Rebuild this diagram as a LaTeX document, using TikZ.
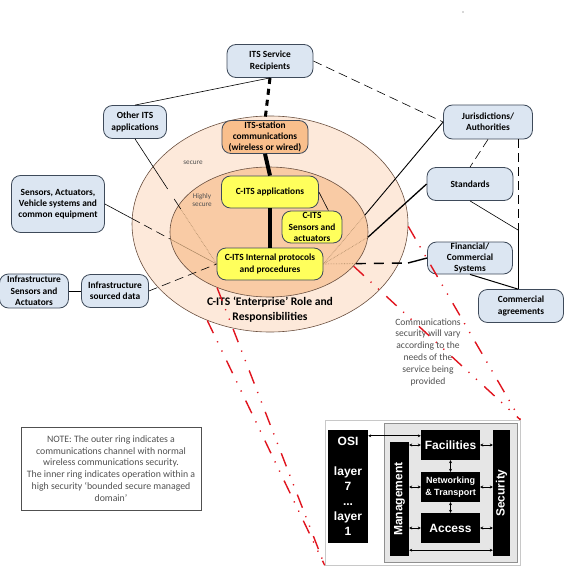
\documentclass[tikz,border=0pt]{standalone}
\usepackage{fontspec}
\usepackage{graphicx}
\setmainfont{Carlito}
\newfontfamily\arialfont{Liberation Sans}
\usetikzlibrary{shapes.geometric,arrows.meta,calc}
\definecolor{actorfill}{HTML}{DCE6F2}
\definecolor{actorline}{HTML}{3E4A5A}
\definecolor{citsyellow}{HTML}{FFFF5C}
\definecolor{stationfill}{HTML}{F9BF8C}
\definecolor{outerfill}{HTML}{FDE9DA}
\definecolor{innerfill}{HTML}{F9CBA5}
\definecolor{ringline}{HTML}{6B5040}
\definecolor{tanline}{HTML}{A88560}
\definecolor{zoomred}{HTML}{E0141E}
\definecolor{labelgray}{HTML}{505050}
\definecolor{panelfill}{HTML}{E6E6E6}
\definecolor{panelline}{HTML}{909090}
\definecolor{framegray}{HTML}{C8C8C8}
\begin{document}
\begin{tikzpicture}[x=1pt,y=-1pt,
  boxsize/.style 2 args={minimum width=#1pt,minimum height=#2pt},
  actor/.style={draw=actorline,fill=actorfill,line width=0.8pt,rounded corners=9pt,
    align=center,inner sep=0pt,font=\bfseries\fontsize{9.4}{11.3}\selectfont},
  cits/.style={actor,fill=citsyellow},
  ring/.style={ellipse,draw=ringline,line width=0.6pt,inner sep=0pt},
  link/.style={line width=0.6pt},
  dashlink/.style={link,dash pattern=on 9pt off 5pt},
  tanlink/.style={draw=tanline,line width=0.6pt,densely dotted},
  zoomline/.style={draw=zoomred,line width=1.4pt,
    dash pattern=on 14pt off 9pt on 1.2pt off 9pt on 1.2pt off 10pt},
  smalllabel/.style={text=labelgray,align=center,font=\fontsize{7.2}{8.6}\selectfont},
  layer/.style={fill=black,text=white,inner sep=0pt,align=center,
    font=\arialfont\bfseries\fontsize{12}{15}\selectfont},
  port/.style={{Stealth[length=3pt,width=3pt]}-{Stealth[length=3pt,width=3pt]},line width=0.5pt}]
\useasboundingbox (0,0) rectangle (565,567);
\fill[labelgray] (463,12) circle (0.7pt);

\node[ring,fill=outerfill,boxsize={276}{216}] (outer) at (270,224) {};
\node[ring,fill=innerfill,boxsize={198}{130}] (inner) at (269,232) {};
\node[smalllabel] (securelbl) at (193,163) {secure};
\node[smalllabel] (highlylbl) at (202,200) {Highly\\secure};
\node[align=center,font=\bfseries\fontsize{11.6}{15}\selectfont] (rolelbl) at (270,310)
  {C-ITS ‘Enterprise’ Role and\\Responsibilities};

\node[actor,boxsize={86}{33}] (recip) at (270,61) {ITS Service\\Recipients};
\node[actor,boxsize={63}{33}] (otherapps) at (135,122) {Other ITS\\applications};
\node[actor,boxsize={93}{57}] (sensors) at (58,204) {Sensors, Actuators,\\Vehicle systems and\\common equipment};
\node[actor,boxsize={69}{34}] (infrasens) at (34,291) {Infrastructure\\Sensors and\\Actuators};
\node[actor,boxsize={67}{33}] (infradata) at (115,291) {Infrastructure\\sourced data};
\node[actor,boxsize={89}{34}] (jurisd) at (488,122) {Jurisdictions/\\Authorities};
\node[actor,boxsize={86}{33}] (standards) at (470,184) {Standards};
\node[actor,boxsize={85}{32}] (financial) at (470,258) {Financial/\\Commercial\\Systems};
\node[actor,boxsize={85}{33}] (commagr) at (521,306) {Commercial\\agreements};

\node[actor,fill=stationfill,boxsize={86}{33}] (stationcomm) at (265,137) {ITS-station\\communications\\(wireless or wired)};
\node[cits,boxsize={97}{32}] (apps) at (270,192) {C-ITS applications};
\node[cits,boxsize={60}{32}] (citssens) at (312,227) {C-ITS\\Sensors and\\actuators};
\node[cits,boxsize={106}{32}] (internal) at (270,264) {C-ITS Internal protocols\\and procedures};

\draw[line width=3pt,dash pattern=on 6pt off 5pt] (recip.south) -- (stationcomm.north);
\draw[line width=4pt] (stationcomm.south) -- (apps.north);
\draw[line width=4.5pt] (apps.south) -- (internal.north);
\draw[link] (apps.east) -- (citssens.45);
\draw[link] (recip.south) -- (otherapps.north);
\draw[dashlink] (recip.east) -- (jurisd.west);

\draw[link] (otherapps.south) -- ($(otherapps.south)!0.4!(internal.west)$);
\draw[link] ($(otherapps.south)!0.48!(internal.west)$) -- ($(otherapps.south)!0.56!(internal.west)$);
\draw[tanlink] ($(otherapps.south)!0.56!(internal.west)$) -- (internal.west);
\draw[link] (sensors.east) -- ($(sensors.east)!0.24!(internal.west)$);
\draw[dashlink] ($(sensors.east)!0.24!(internal.west)$) -- ($(sensors.east)!0.58!(internal.west)$);
\draw[draw=tanline,line width=0.5pt] ($(sensors.east)!0.58!(internal.west)$) -- (internal.west);
\draw[link] (infrasens.east) -- (infradata.west);
\draw[dashlink] (infradata.east) -- (internal.west);

\coordinate (finbend) at (408,263);
\draw[tanlink] (internal.east) -- (inner.10);
\draw[tanlink] (internal.east) -- (inner.357);
\draw[tanlink] (internal.east) -- (inner.340);
\draw[link,line width=0.9pt] (inner.10) -- (jurisd.west);
\draw[line width=1.3pt] (inner.357) -- (standards.west);
\draw[line width=1.4pt,dash pattern=on 10pt off 8pt] (inner.340) -- (finbend);
\draw[line width=1.4pt] (finbend) -- (financial.west);

\coordinate (agrjoin) at (518,230);
\draw[dashlink] (jurisd.south) -- (standards.north);
\draw[dashlink] (jurisd.south -| agrjoin) -- (agrjoin);
\draw[link] (standards.south) -- (agrjoin);
\draw[link] (agrjoin) -- (agrjoin |- commagr.north);
\draw[line width=1pt] (financial.south) -- (agrjoin |- commagr.north);

\node[smalllabel,font=\fontsize{9.6}{11.8}\selectfont] (varylbl) at (428,352)
  {Communications\\security will vary\\according to the\\needs of the\\service being\\provided};
\node[draw=labelgray,line width=0.7pt,boxsize={180}{83},inner sep=1pt,align=center,
  text=labelgray,font=\fontsize{9.8}{11.8}\selectfont] (note) at (111,468.5)
  {NOTE: The outer ring indicates a\\communications channel with normal\\wireless communications security.\\The inner ring indicates operation within a\\high security ‘bounded secure managed\\domain’};

\node[draw=framegray,fill=white,line width=0.6pt,boxsize={195}{145}] (stack) at (422.5,492.5) {};
\node[draw=panelline,fill=panelfill,line width=0.6pt,boxsize={133}{139}] (panel) at (450.5,492.5) {};
\node[layer,boxsize={40}{113}] (osi) at (348,486.5) {OSI\\[15pt]layer\\7\\...\\layer\\1};
\node[layer,boxsize={19}{114}] (mgmt) at (399.5,499) {\rotatebox{90}{Management}};
\node[layer,boxsize={17}{126}] (sec) at (501.5,493) {\rotatebox{90}{Security}};
\node[layer,boxsize={59}{30}] (fac) at (450.5,445) {Facilities};
\node[layer,boxsize={59}{30},font=\arialfont\bfseries\fontsize{9}{12}\selectfont] (nettrans) at (450.5,487) {Networking\\\& Transport};
\node[layer,boxsize={59}{30}] (access) at (450.5,528) {Access};

\coordinate (osiarr) at ([yshift=-6pt]fac.north west);
\draw[port,line width=1pt] (osi.east |- osiarr) -- (osiarr);
\foreach \lay in {fac,nettrans,access}{
  \draw[port] (mgmt.east |- \lay) -- (\lay.west);
  \draw[port] (\lay.east) -- (sec.west |- \lay);
}
\draw[port] (fac.south) -- (nettrans.north);
\draw[port] (nettrans.south) -- (access.north);
\coordinate (mgmtfoot) at ([yshift=6pt]mgmt.south east);
\draw[port] (mgmtfoot) -- (mgmtfoot -| sec.west);

\draw[zoomline] (outer.237) -- (stack.south west);
\draw[zoomline] (inner.227) -- (stack.south west);
\draw[zoomline] (outer.359) -- (stack.north east);
\draw[zoomline] (inner.338) -- (stack.north east);
\end{tikzpicture}
\end{document}
